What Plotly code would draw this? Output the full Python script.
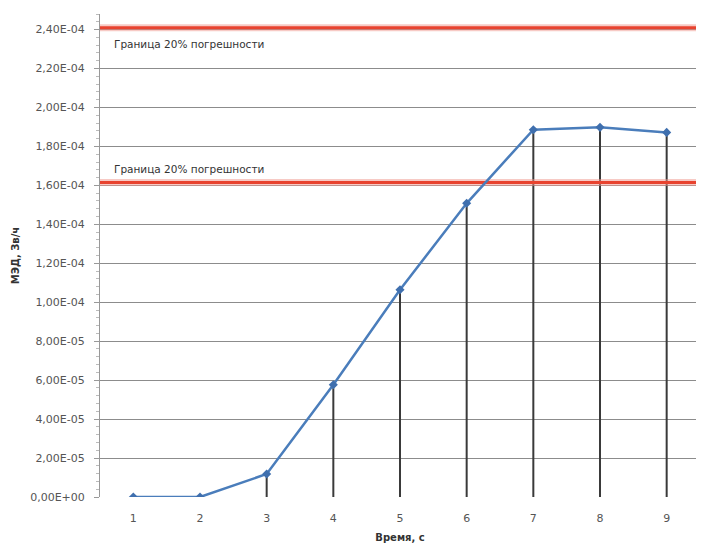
import plotly.graph_objects as go

time_s = [1, 2, 3, 4, 5, 6, 7, 8, 9]
dose_rate = [0.0, 0.0, 1.18e-05, 5.76e-05, 1.064e-04, 1.508e-04, 1.886e-04, 1.898e-04, 1.872e-04]
bounds = [2.41e-04, 1.615e-04]
bound_label = "Граница 20% погрешности"
y_tickvals = [i * 2e-05 for i in range(13)]
y_ticktext = ["0,00E+00", "2,00E-05", "4,00E-05", "6,00E-05", "8,00E-05", "1,00E-04",
              "1,20E-04", "1,40E-04", "1,60E-04", "1,80E-04", "2,00E-04", "2,20E-04", "2,40E-04"]

font = "DejaVu Sans"
fig = go.Figure()

# drop lines
dx, dy = [], []
for x, y in zip(time_s, dose_rate):
    if y > 0:
        dx += [x, x, None]
        dy += [0, y, None]
fig.add_trace(go.Scatter(x=dx, y=dy, mode="lines", line=dict(color="#3a3a3a", width=2),
                         hoverinfo="skip", showlegend=False))

# bound lines (halo + core)
for b in bounds:
    fig.add_trace(go.Scatter(x=[0.5, 9.5], y=[b, b], mode="lines",
                             line=dict(color="rgba(240,150,140,0.5)", width=7),
                             hoverinfo="skip", showlegend=False))
    fig.add_trace(go.Scatter(x=[0.5, 9.5], y=[b, b], mode="lines",
                             line=dict(color="#e8432f", width=3),
                             hoverinfo="skip", showlegend=False))

fig.add_trace(go.Scatter(x=time_s, y=dose_rate, mode="lines+markers",
                         line=dict(color="#4a7dbb", width=2.5),
                         marker=dict(symbol="diamond", size=7, color="#3f6fae"),
                         showlegend=False))

for b, off in zip(bounds, [-0.085e-04, 0.07e-04]):
    fig.add_annotation(x=0.02, xref="paper", y=b + off, yref="y", text=bound_label,
                       showarrow=False, xanchor="left", yanchor="middle",
                       font=dict(family=font, size=10.5, color="#333333"))

fig.update_layout(
    width=696, height=543,
    margin=dict(l=92, r=4, t=6, b=54),
    paper_bgcolor="white", plot_bgcolor="white",
    font=dict(family=font, size=11, color="#555555"),
    xaxis=dict(range=[0.5, 9.5], tickvals=time_s, ticktext=[str(t) for t in time_s],
               showgrid=False, zeroline=False, showline=False, ticks="",
               ticklabelstandoff=13, tickfont=dict(size=11, color="#555555"),
               title=dict(text="<b>Время, с</b>", font=dict(size=10, color="#333333"), standoff=9)),
    yaxis=dict(range=[0, 2.48e-04], tickvals=y_tickvals, ticktext=y_ticktext,
               showgrid=True, gridcolor="#8c8c8c", gridwidth=1, zeroline=False,
               showline=True, linecolor="#999999", linewidth=1,
               ticks="outside", ticklen=5, tickcolor="#999999", ticklabelstandoff=7,
               minor=dict(ticks="outside", ticklen=3, tickcolor="#bbbbbb", dtick=4e-06, showgrid=False),
               tickfont=dict(size=11, color="#555555"),
               title=dict(text="<b>МЭД, Зв/ч</b>", font=dict(size=10, color="#333333"), standoff=8)),
)

fig.write_html("out.html")
